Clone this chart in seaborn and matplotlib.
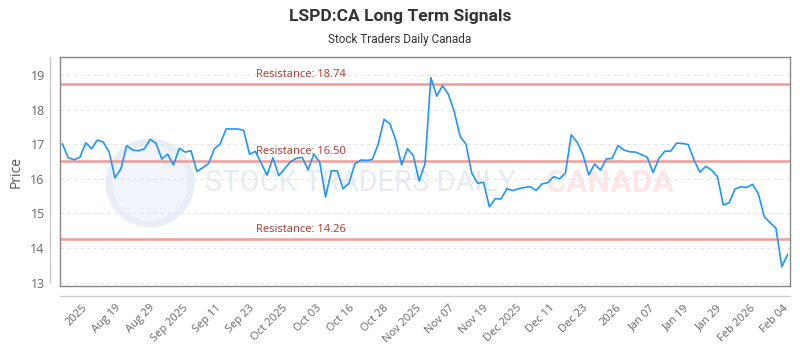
import numpy as np
import pandas as pd
import matplotlib
matplotlib.use("Agg")
import matplotlib.pyplot as plt
import matplotlib.transforms as mtransforms
from matplotlib.lines import Line2D
from matplotlib.patches import Ellipse
import seaborn as sns

# ── Data ──────────────────────────────────────────────────────────────────────
prices = [
    17.01, 16.61, 16.55, 16.62, 17.04, 16.87, 17.12, 17.06, 16.77, 16.03,
    16.28, 16.96, 16.83, 16.81, 16.86, 17.14, 17.03, 16.57, 16.71, 16.40,
    16.88, 16.77, 16.81, 16.21, 16.32, 16.44, 16.87, 17.01, 17.44, 17.44,
    17.44, 17.40, 16.71, 16.79, 16.45, 16.10, 16.61, 16.09, 16.29, 16.49,
    16.59, 16.62, 16.26, 16.71, 16.48, 15.47, 16.23, 16.23, 15.71, 15.87,
    16.43, 16.54, 16.53, 16.56, 17.00, 17.72, 17.59, 17.12, 16.40, 16.87,
    16.67, 15.94, 16.43, 18.92, 18.39, 18.69, 18.44, 17.94, 17.23, 17.00,
    16.16, 15.87, 15.90, 15.19, 15.42, 15.42, 15.71, 15.66, 15.71, 15.75,
    15.77, 15.66, 15.85, 15.89, 16.06, 16.00, 16.16, 17.27, 17.06, 16.70,
    16.11, 16.43, 16.25, 16.57, 16.59, 16.96, 16.83, 16.78, 16.77, 16.70,
    16.62, 16.18, 16.59, 16.80, 16.80, 17.03, 17.02, 16.99, 16.54, 16.19,
    16.36, 16.25, 16.06, 15.24, 15.31, 15.70, 15.77, 15.75, 15.84, 15.56,
    14.90, 14.73, 14.57, 13.46, 13.81,
]

resistance_levels = [18.74, 16.50, 14.26]

tick_labels = [
    "2025", "Aug 19", "Aug 29", "Sep 2025", "Sep 11", "Sep 23", "Oct 2025",
    "Oct 03", "Oct 16", "Oct 28", "Nov 2025", "Nov 07", "Nov 19", "Dec 2025",
    "Dec 11", "Dec 23", "2026", "Jan 07", "Jan 19", "Jan 29", "Feb 2026", "Feb 04",
]

df = pd.DataFrame({"idx": np.arange(len(prices)), "price": prices})

# ── Style ─────────────────────────────────────────────────────────────────────
sns.set_theme(style="white")
plt.rcParams["font.family"] = ["Open Sans", "DejaVu Sans"]

fig = plt.figure(figsize=(8, 3.5), dpi=100)
ax = fig.add_axes([60 / 800, 1 - 286 / 350, 730 / 800, 229 / 350])

# faint watermark behind the data (logo circle + text)
ax.add_patch(Ellipse((90 / 730, 0.45), 82 / 730, 82 / 229, transform=ax.transAxes,
                     facecolor="#f1f4fa", edgecolor="#e9edf5", lw=5, zorder=0))
ax.text(0.198, 0.45, "STOCK TRADERS DAILY", transform=ax.transAxes,
        fontsize=21, color="#e6ebf3", ha="left", va="center",
        family="Roboto", zorder=0)
ax.text(0.665, 0.45, "CANADA", transform=ax.transAxes,
        fontsize=23, color="#fce6e6", ha="left", va="center",
        family="Roboto", fontweight="bold", zorder=0)

sns.lineplot(data=df, x="idx", y="price", ax=ax, color="#2196f3",
             linewidth=1.2, zorder=3)

trans = mtransforms.blended_transform_factory(ax.transAxes, ax.transData)
for lvl in resistance_levels:
    ax.axhline(lvl, color="#f08a84", linewidth=1.8, alpha=0.85, zorder=2)
    ax.text(0.268, lvl + 0.12, f"Resistance: {lvl:.2f}", transform=trans,
            color="#b0352c", fontsize=8, ha="left", va="bottom", zorder=4)

ax.set_xlim(-0.4, 124.4)
ax.set_ylim(12.9, 19.52)
ax.set_yticks(range(13, 20))
ax.yaxis.grid(True, color="#e3e3e3", linestyle=(0, (3, 3)), linewidth=0.8)
ax.xaxis.grid(False)

tick_pos = np.linspace(3.4, 123.2, len(tick_labels))
ax.set_xticks(tick_pos)
ax.set_xticklabels(tick_labels, rotation=45, ha="right", rotation_mode="anchor")
ax.tick_params(axis="x", length=0, pad=12, labelsize=8, labelcolor="#666666")
ax.tick_params(axis="y", length=0, pad=11, labelsize=9, labelcolor="#666666")

for s in ax.spines.values():
    s.set_color("#888888")
    s.set_linewidth(1.0)

ax.set_xlabel("")
ax.set_ylabel("Price", fontsize=10, color="#555555", labelpad=5)

# separate outer axis lines, as in the reference
fig.add_artist(Line2D([50 / 800, 50 / 800], [1 - 57 / 350, 1 - 283 / 350],
                      color="#cccccc", linewidth=1.0))
fig.add_artist(Line2D([60 / 800, 790 / 800], [1 - 296 / 350, 1 - 296 / 350],
                      color="#cccccc", linewidth=1.0))

fig.text(0.5, 1 - 16 / 350, "LSPD:CA Long Term Signals", ha="center", va="center",
         fontsize=12.5, fontweight="bold", color="#333333", family="Roboto")
fig.text(0.5, 1 - 40 / 350, "Stock Traders Daily Canada", ha="center", va="center",
         fontsize=8.5, color="#333333", family="Roboto")

fig.savefig("out.png", dpi=100)
